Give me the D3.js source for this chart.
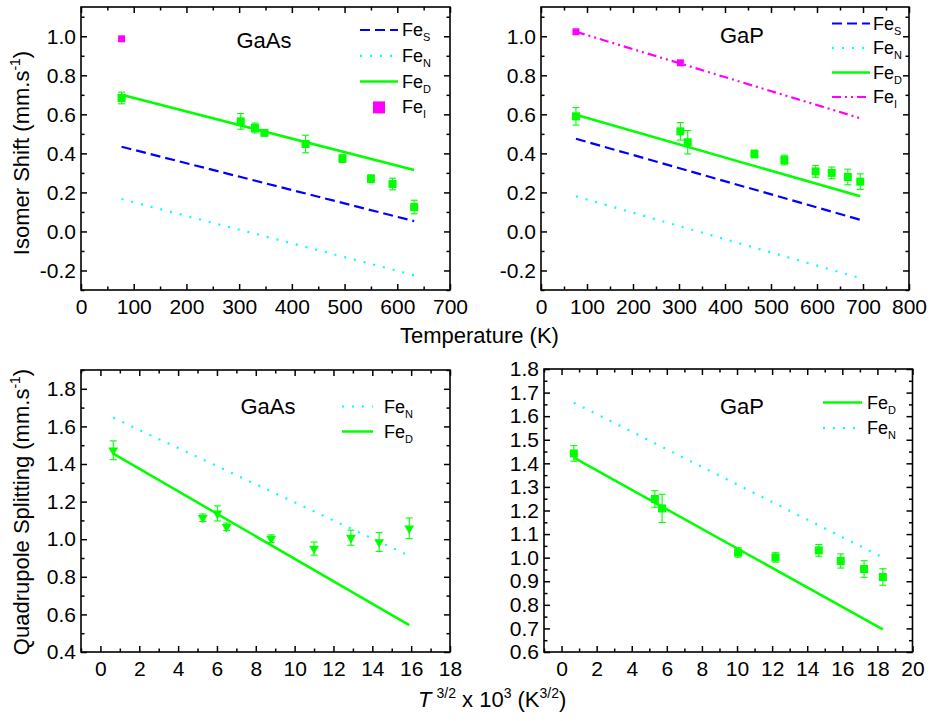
<!DOCTYPE html>
<html>
<head>
<meta charset="utf-8">
<script src="https://cdn.jsdelivr.net/npm/d3@7/dist/d3.min.js"></script>
<style>
  html, body { margin: 0; padding: 0; background: #fff; }
  svg { display: block; font-family: "Liberation Sans", Arial, Helvetica, sans-serif; }
</style>
</head>
<body>
<svg id="chart" width="934" height="721"></svg>
<script>
// ---------------- DATA ----------------
// (a) GaAs isomer shift vs temperature
const gaAsIS_T      = [77, 303, 330, 348, 426, 496, 550, 591, 632];
const gaAsIS_FeD    = [0.684, 0.564, 0.530, 0.505, 0.448, 0.373, 0.270, 0.243, 0.125];
const gaAsIS_Err    = [0.030, 0.040, 0.025, 0.012, 0.045, 0.020, 0.020, 0.030, 0.035];
const gaAsIS_FeI_T  = [77];
const gaAsIS_FeI    = [0.987];
const gaAsIS_FitT   = [77, 632];
const gaAsIS_FitFeS = [0.434, 0.053];
const gaAsIS_FitFeN = [0.166, -0.224];
const gaAsIS_FitFeD = [0.700, 0.315];

// (b) GaP isomer shift vs temperature
const gaPIS_T       = [76, 303, 319, 464, 529, 597, 632, 667, 694];
const gaPIS_FeD     = [0.590, 0.513, 0.457, 0.397, 0.366, 0.308, 0.300, 0.279, 0.255];
const gaPIS_Err     = [0.045, 0.045, 0.060, 0.020, 0.025, 0.030, 0.030, 0.040, 0.040];
const gaPIS_FeI_T   = [76, 303];
const gaPIS_FeI     = [1.023, 0.864];
const gaPIS_FitT    = [76, 694];
const gaPIS_FitFeS  = [0.475, 0.060];
const gaPIS_FitFeN  = [0.180, -0.239];
const gaPIS_FitFeD  = [0.598, 0.180];
const gaPIS_FitFeI  = [1.023, 0.580];

// (c) GaAs quadrupole splitting vs T^3/2 x 10^3
const gaAsQS_X      = [0.66, 5.27, 6.02, 6.50, 8.79, 11.00, 12.90, 14.35, 15.90];
const gaAsQS_FeD    = [1.473, 1.114, 1.137, 1.066, 1.003, 0.950, 1.008, 0.985, 1.058];
const gaAsQS_Err    = [0.050, 0.020, 0.040, 0.020, 0.020, 0.035, 0.040, 0.050, 0.055];
const gaAsQS_FitX   = [0.66, 15.90];
const gaAsQS_FitFeN = [1.646, 0.912];
const gaAsQS_FitFeD = [1.455, 0.543];

// (d) GaP quadrupole splitting vs T^3/2 x 10^3
const gaPQS_X       = [0.70, 5.32, 5.73, 10.06, 12.19, 14.66, 15.91, 17.24, 18.31];
const gaPQS_FeD     = [1.442, 1.249, 1.209, 1.022, 1.001, 1.031, 0.986, 0.952, 0.918];
const gaPQS_Err     = [0.033, 0.035, 0.060, 0.020, 0.020, 0.025, 0.030, 0.035, 0.035];
const gaPQS_FitX    = [0.70, 18.31];
const gaPQS_FitFeD  = [1.424, 0.696];
const gaPQS_FitFeN  = [1.657, 1.001];

// Tick values
const xTicksIS_GaAs = d3.range(0, 701, 100);
const xTicksIS_GaP  = d3.range(0, 801, 100);
const yTicksIS      = [-0.2, 0.0, 0.2, 0.4, 0.6, 0.8, 1.0];
const xTicksQS_GaAs = d3.range(0, 19, 2);
const xTicksQS_GaP  = d3.range(0, 21, 2);
const yTicksQS_GaAs = [0.4, 0.6, 0.8, 1.0, 1.2, 1.4, 1.6, 1.8];
const yTicksQS_GaP  = [0.6, 0.7, 0.8, 0.9, 1.0, 1.1, 1.2, 1.3, 1.4, 1.5, 1.6, 1.7, 1.8];

// ---------------- STYLE ----------------
const C = { S: "#0000ff", N: "#00ffff", D: "#00ff00", I: "#ff00ff" };
const DASH = { S: "10,5", N: "2,8", D: null, I: "9,4,2,4,2,4" };
const WID = { S: 2.2, N: 2.2, D: 2.5, I: 2.2 };

const svg = d3.select("#chart");
const fmt1 = d => d.toFixed(1);
const fmt0 = d => String(d);

function drawPanel(cfg) {
  const g = svg.append("g");
  const x = d3.scaleLinear().domain(cfg.xDomain).range([cfg.left, cfg.right]);
  const y = d3.scaleLinear().domain(cfg.yDomain).range([cfg.bottom, cfg.top]);

  const axes = [
    [d3.axisBottom(x), cfg.xMajor, cfg.xMinor, `translate(0,${cfg.bottom})`, true, cfg.xFmt, 9],
    [d3.axisTop(x), cfg.xMajor, cfg.xMinor, `translate(0,${cfg.top})`, false],
    [d3.axisLeft(y), cfg.yMajor, cfg.yMinor, `translate(${cfg.left},0)`, true, cfg.yFmt, 5],
    [d3.axisRight(y), cfg.yMajor, cfg.yMinor, `translate(${cfg.right},0)`, false]
  ];
  axes.forEach(([ax, major, minor, tr, labels, f, pad]) => {
    const gm = g.append("g").attr("transform", tr)
      .call(ax.tickValues(minor).tickSizeInner(-3.5).tickSizeOuter(0).tickFormat(""));
    gm.select(".domain").remove();
    const gM = g.append("g").attr("transform", tr)
      .call(ax.tickValues(major).tickSizeInner(-6).tickSizeOuter(0)
        .tickPadding(labels ? pad : 0).tickFormat(labels ? f : ""));
    gM.select(".domain").remove();
    g.selectAll(".tick line").attr("stroke", "#000").attr("stroke-width", 1.5);
    gM.selectAll(".tick text").attr("font-size", 21).attr("fill", "#000")
      .attr("font-family", "Liberation Sans, Arial, sans-serif");
  });

  g.append("rect").attr("x", cfg.left).attr("y", cfg.top)
    .attr("width", cfg.right - cfg.left).attr("height", cfg.bottom - cfg.top)
    .attr("fill", "none").attr("stroke", "#000").attr("stroke-width", 1.6);

  // fit lines
  const line = d3.line().x(d => x(d[0])).y(d => y(d[1]));
  cfg.fits.forEach(ft => {
    g.append("path").datum(d3.zip(ft.xs, ft.ys)).attr("d", line)
      .attr("fill", "none").attr("stroke", C[ft.k]).attr("stroke-width", WID[ft.k])
      .attr("stroke-dasharray", DASH[ft.k]);
  });

  // error bars
  const eb = g.append("g").attr("stroke", C.D).attr("stroke-width", 1.1);
  cfg.pts.xs.forEach((xv, i) => {
    const v = cfg.pts.ys[i], e = cfg.pts.err[i];
    const px = x(xv);
    eb.append("line").attr("x1", px).attr("x2", px).attr("y1", y(v - e)).attr("y2", y(v + e));
    [v - e, v + e].forEach(vv => eb.append("line").attr("x1", px - 3.5).attr("x2", px + 3.5)
      .attr("y1", y(vv)).attr("y2", y(vv)));
  });
  // markers
  cfg.pts.xs.forEach((xv, i) => {
    const px = x(xv), py = y(cfg.pts.ys[i]);
    if (cfg.pts.shape === "tri") {
      g.append("path").attr("d", d3.symbol(d3.symbolTriangle, 42)())
        .attr("transform", `translate(${px},${py}) rotate(180)`).attr("fill", C.D);
    } else {
      g.append("rect").attr("x", px - 4).attr("y", py - 4).attr("width", 8).attr("height", 8).attr("fill", C.D);
    }
  });
  if (cfg.feI) {
    cfg.feI.xs.forEach((xv, i) => {
      const px = x(xv), py = y(cfg.feI.ys[i]);
      g.append("rect").attr("x", px - 3.5).attr("y", py - 3.5).attr("width", 7).attr("height", 7).attr("fill", C.I);
    });
  }

  // panel label
  g.append("text").attr("x", cfg.label[1]).attr("y", cfg.label[2]).attr("text-anchor", "middle")
    .attr("font-size", 22).attr("fill", "#000").text(cfg.label[0]);

  // legend
  cfg.legend.items.forEach((it, i) => {
    const ly = cfg.legend.y0 + i * cfg.legend.dy;
    const [x0, x1] = cfg.legend.xs;
    if (it.square) {
      g.append("rect").attr("x", (x0 + x1) / 2 - 6).attr("y", ly - 6).attr("width", 12).attr("height", 12).attr("fill", C[it.k]);
    } else {
      g.append("line").attr("x1", x0).attr("x2", x1).attr("y1", ly).attr("y2", ly)
        .attr("stroke", C[it.k]).attr("stroke-width", WID[it.k]).attr("stroke-dasharray", DASH[it.k]);
    }
    const t = g.append("text").attr("x", cfg.legend.tx).attr("y", ly + 6).attr("font-size", 18).attr("fill", "#000");
    t.append("tspan").text("Fe");
    t.append("tspan").attr("font-size", 11).attr("dy", 5).text(it.k);
  });
}

// (a)
drawPanel({
  left: 81, right: 450, top: 7, bottom: 290,
  xDomain: [0, 700], yDomain: [-0.3, 1.15],
  xMajor: xTicksIS_GaAs, xMinor: d3.range(50, 700, 100),
  yMajor: yTicksIS, yMinor: [-0.3, -0.1, 0.1, 0.3, 0.5, 0.7, 0.9, 1.1],
  xFmt: fmt0, yFmt: fmt1,
  fits: [
    { k: "S", xs: gaAsIS_FitT, ys: gaAsIS_FitFeS },
    { k: "N", xs: gaAsIS_FitT, ys: gaAsIS_FitFeN },
    { k: "D", xs: gaAsIS_FitT, ys: gaAsIS_FitFeD }
  ],
  pts: { xs: gaAsIS_T, ys: gaAsIS_FeD, err: gaAsIS_Err, shape: "sq" },
  feI: { xs: gaAsIS_FeI_T, ys: gaAsIS_FeI },
  label: ["GaAs", 264, 48],
  legend: { xs: [360, 398], tx: 402, y0: 30, dy: 25.8,
    items: [{ k: "S" }, { k: "N" }, { k: "D" }, { k: "I", square: true }] }
});

// (b)
drawPanel({
  left: 541, right: 909, top: 7, bottom: 290,
  xDomain: [0, 800], yDomain: [-0.3, 1.15],
  xMajor: xTicksIS_GaP, xMinor: d3.range(50, 800, 100),
  yMajor: yTicksIS, yMinor: [-0.3, -0.1, 0.1, 0.3, 0.5, 0.7, 0.9, 1.1],
  xFmt: fmt0, yFmt: fmt1,
  fits: [
    { k: "S", xs: gaPIS_FitT, ys: gaPIS_FitFeS },
    { k: "N", xs: gaPIS_FitT, ys: gaPIS_FitFeN },
    { k: "D", xs: gaPIS_FitT, ys: gaPIS_FitFeD },
    { k: "I", xs: gaPIS_FitT, ys: gaPIS_FitFeI }
  ],
  pts: { xs: gaPIS_T, ys: gaPIS_FeD, err: gaPIS_Err, shape: "sq" },
  feI: { xs: gaPIS_FeI_T, ys: gaPIS_FeI },
  label: ["GaP", 742, 43],
  legend: { xs: [832, 870], tx: 873, y0: 23.5, dy: 24.5,
    items: [{ k: "S" }, { k: "N" }, { k: "D" }, { k: "I" }] }
});

// (c)
drawPanel({
  left: 81, right: 450, top: 370, bottom: 652,
  xDomain: [-1, 18], yDomain: [0.4, 1.9],
  xMajor: xTicksQS_GaAs, xMinor: d3.range(-1, 18, 2),
  yMajor: yTicksQS_GaAs, yMinor: [0.5, 0.7, 0.9, 1.1, 1.3, 1.5, 1.7, 1.9],
  xFmt: fmt0, yFmt: fmt1,
  fits: [
    { k: "N", xs: gaAsQS_FitX, ys: gaAsQS_FitFeN },
    { k: "D", xs: gaAsQS_FitX, ys: gaAsQS_FitFeD }
  ],
  pts: { xs: gaAsQS_X, ys: gaAsQS_FeD, err: gaAsQS_Err, shape: "tri" },
  label: ["GaAs", 268, 414],
  legend: { xs: [342, 373], tx: 384, y0: 406.5, dy: 25,
    items: [{ k: "N" }, { k: "D" }] }
});

// (d)
drawPanel({
  left: 544, right: 912.5, top: 369, bottom: 652,
  xDomain: [-1, 20], yDomain: [0.6, 1.8],
  xMajor: xTicksQS_GaP, xMinor: d3.range(-1, 20, 2),
  yMajor: yTicksQS_GaP, yMinor: d3.range(0.65, 1.8, 0.1),
  xFmt: fmt0, yFmt: fmt1,
  fits: [
    { k: "D", xs: gaPQS_FitX, ys: gaPQS_FitFeD },
    { k: "N", xs: gaPQS_FitX, ys: gaPQS_FitFeN }
  ],
  pts: { xs: gaPQS_X, ys: gaPQS_FeD, err: gaPQS_Err, shape: "sq" },
  label: ["GaP", 742, 414],
  legend: { xs: [823, 862], tx: 867, y0: 402.5, dy: 25.7,
    items: [{ k: "D" }, { k: "N" }] }
});

// axis titles
svg.append("text").attr("x", 400).attr("y", 343).attr("font-size", 22).attr("fill", "#000")
  .text("Temperature (K)");

const bt = svg.append("text").attr("x", 418).attr("y", 707).attr("font-size", 22).attr("fill", "#000");
bt.append("tspan").attr("font-style", "italic").text("T");
bt.append("tspan").attr("font-size", 14).attr("dy", -9).attr("dx", 5).text("3/2");
bt.append("tspan").attr("dy", 9).text(" x 10");
bt.append("tspan").attr("font-size", 14).attr("dy", -9).text("3");
bt.append("tspan").attr("dy", 9).text(" (K");
bt.append("tspan").attr("font-size", 14).attr("dy", -9).text("3/2");
bt.append("tspan").attr("dy", 9).text(")");

function yTitle(cy, main) {
  const t = svg.append("text").attr("transform", `translate(29,${cy}) rotate(-90)`)
    .attr("text-anchor", "middle").attr("font-size", 22).attr("fill", "#000");
  t.append("tspan").text(main);
  t.append("tspan").attr("font-size", 14).attr("dy", -9).text("-1");
  t.append("tspan").attr("dy", 9).text(")");
}
yTitle(153, "Isomer Shift (mm.s");
yTitle(512, "Quadrupole Splitting (mm.s");
</script>
</body>
</html>
